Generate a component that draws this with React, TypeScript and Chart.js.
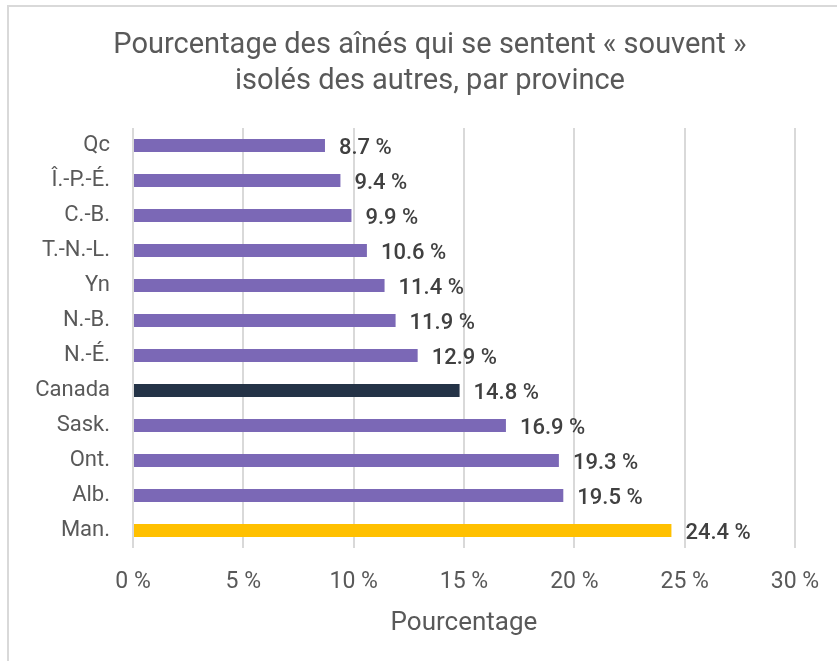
import React, { useEffect, useRef } from "react";
import { Chart, registerables } from "chart.js";

Chart.register(...registerables);

const categories = ["Qc", "Î.-P.-É.", "C.-B.", "T.-N.-L.", "Yn", "N.-B.", "N.-É.", "Canada", "Sask.", "Ont.", "Alb.", "Man."];
const values = [8.7, 9.4, 9.9, 10.6, 11.4, 11.9, 12.9, 14.8, 16.9, 19.3, 19.5, 24.4];
const titleLines = ["Pourcentage des aînés qui se sentent « souvent »", "isolés des autres, par province"];
const axisTitle = "Pourcentage";
const xMin = 0;
const xMax = 30;
const xStep = 5;

const PURPLE = "#7B68B6";
const NAVY = "#243347";
const YELLOW = "#FFC000";
const FONT = "Roboto, 'DejaVu Sans', sans-serif";

const barColors = categories.map((c) => (c === "Canada" ? NAVY : c === "Man." ? YELLOW : PURPLE));

const valueLabels = {
  id: "valueLabels",
  afterDatasetsDraw(chart: any) {
    const ctx = chart.ctx;
    const meta = chart.getDatasetMeta(0);
    ctx.save();
    ctx.font = `500 22px ${FONT}`;
    ctx.fillStyle = "#404040";
    ctx.textAlign = "left";
    ctx.textBaseline = "middle";
    meta.data.forEach((el: any, i: number) => {
      ctx.fillText(values[i].toFixed(1) + " %", el.x + 14, el.y + 3);
    });
    ctx.restore();
  },
};

const CANVAS_W = 860;
const CANVAS_H = 661;

export default function App() {
  const ref = useRef<HTMLCanvasElement | null>(null);
  useEffect(() => {
    if (!ref.current) return;
    const chart = new Chart(ref.current, {
      type: "bar",
      data: {
        labels: categories,
        datasets: [
          {
            data: values,
            backgroundColor: barColors,
            borderWidth: 0,
            categoryPercentage: 1,
            barPercentage: 0.37,
          },
        ],
      },
      options: {
        indexAxis: "y",
        responsive: false,
        maintainAspectRatio: false,
        animation: false,
        layout: { padding: { left: 10, right: 10, top: 0, bottom: 0 } },
        plugins: {
          legend: { display: false },
          tooltip: { enabled: false },
          title: {
            display: true,
            text: titleLines,
            color: "#595959",
            font: { family: FONT, size: 29, weight: "normal", lineHeight: 1.26 },
            padding: { top: 27, bottom: 28 },
          },
        },
        scales: {
          x: {
            min: xMin,
            max: xMax,
            grid: { color: "#d9d9d9", lineWidth: 2, drawTicks: false },
            border: { display: false },
            ticks: {
              stepSize: xStep,
              padding: 20,
              color: "#595959",
              font: { family: FONT, size: 23 },
              callback: (v: any) => v + " %",
            },
            title: {
              display: true,
              text: axisTitle,
              color: "#595959",
              font: { family: FONT, size: 26 },
              padding: { top: 0, bottom: 22 },
            },
            afterFit: (s: any) => {
              s.height = 113;
            },
          },
          y: {
            grid: { display: false, drawTicks: false },
            border: { display: false },
            ticks: {
              padding: 23,
              color: "#595959",
              font: { family: FONT, size: 22 },
            },
            afterFit: (s: any) => {
              s.width = 123;
            },
          },
          yRight: {
            type: "linear",
            position: "right",
            display: true,
            grid: { display: false, drawTicks: false },
            border: { display: false },
            ticks: { display: false },
            afterFit: (s: any) => {
              s.width = 55;
            },
          },
        },
      },
      plugins: [valueLabels],
    });
    return () => chart.destroy();
  }, []);

  return (
    <div style={{ position: "fixed", left: 0, top: 0, width: 837, height: 661, background: "#fff", overflow: "hidden" }}>
      <div
        style={{
          position: "absolute",
          left: 7,
          top: 5,
          width: 900,
          height: 700,
          border: "2px solid #d9d9d9",
          boxSizing: "border-box",
        }}
      />
      <canvas
        ref={ref}
        width={CANVAS_W}
        height={CANVAS_H}
        style={{ position: "absolute", left: 0, top: 0, width: CANVAS_W, height: CANVAS_H }}
      />
    </div>
  );
}
